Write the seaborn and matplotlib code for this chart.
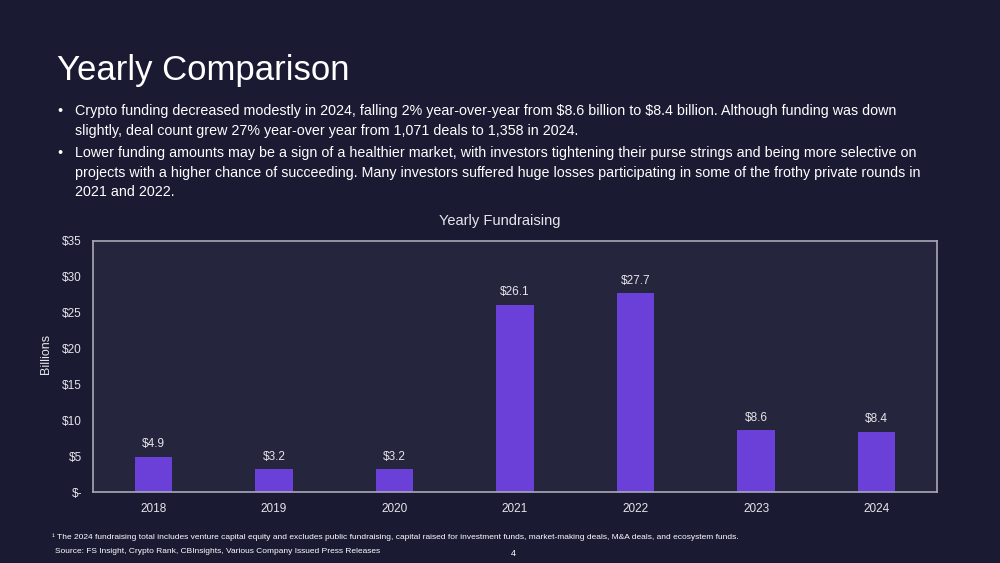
import pandas as pd
import seaborn as sns
import matplotlib.pyplot as plt

# chart data
years = ['2018', '2019', '2020', '2021', '2022', '2023', '2024']
funding = [4.9, 3.2, 3.2, 26.1, 27.7, 8.6, 8.4]
y_ticks = [0, 5, 10, 15, 20, 25, 30, 35]
y_tick_labels = ['$-', '$5', '$10', '$15', '$20', '$25', '$30', '$35']

BG = '#1a1a33'
PANEL = '#25253d'
BAR = '#6b40d9'
TXT = '#e6e6ec'

sns.set_theme(style='dark')
plt.rcParams['font.family'] = ['Liberation Sans', 'DejaVu Sans']
plt.rcParams['text.parse_math'] = False

df = pd.DataFrame({'year': years, 'funding': funding})

fig = plt.figure(figsize=(10, 5.63), dpi=100, facecolor=BG)
ax = fig.add_axes([0.093, 0.126, 0.844, 0.446])
ax.set_facecolor(PANEL)

sns.barplot(data=df, x='year', y='funding', color=BAR, width=0.31,
            saturation=1, linewidth=0, ax=ax)

for i, v in enumerate(funding):
    ax.text(i, v + 0.9, f'${v:.1f}', ha='center', va='bottom',
            color=TXT, fontsize=8.5)

ax.set_ylim(0, 35)
ax.set_xlim(-0.5, 6.5)
ax.set_yticks(y_ticks)
ax.set_yticklabels(y_tick_labels)
ax.tick_params(colors=TXT, labelsize=8.5, length=0, pad=8)
ax.set_xlabel('')
ax.set_ylabel('Billions', color=TXT, fontsize=9)
ax.yaxis.set_label_coords(-0.049, 0.55)
ax.grid(False)
for s in ax.spines.values():
    s.set_color('#a8a8b8')
    s.set_linewidth(1.2)
    s.set_visible(True)

fig.text(0.5, 0.607, 'Yearly Fundraising', color=TXT, fontsize=10.5,
         ha='center', va='center')

# slide text
fig.text(0.057, 0.875, 'Yearly Comparison', color='white', fontsize=25,
         ha='left', va='center')

bullets = [
    ('Crypto funding decreased modestly in 2024, falling 2% year-over-year from $8.6 billion to $8.4 billion. Although funding was down\n'
     'slightly, deal count grew 27% year-over year from 1,071 deals to 1,358 in 2024.', 0.815),
    ('Lower funding amounts may be a sign of a healthier market, with investors tightening their purse strings and being more selective on\n'
     'projects with a higher chance of succeeding. Many investors suffered huge losses participating in some of the frothy private rounds in\n'
     '2021 and 2022.', 0.74),
]
for body, y in bullets:
    fig.text(0.057, y, '•', color='white', fontsize=10.3, va='top')
    fig.text(0.075, y, body, color='white', fontsize=10.3, va='top',
             linespacing=1.5)

fig.text(0.052, 0.045, '¹ The 2024 fundraising total includes venture capital equity and excludes public fundraising, capital raised for investment funds, market-making deals, M&A deals, and ecosystem funds.',
         color='white', fontsize=6, va='center')
fig.text(0.055, 0.02, 'Source: FS Insight, Crypto Rank, CBInsights, Various Company Issued Press Releases',
         color='white', fontsize=6, va='center')
fig.text(0.513, 0.016, '4', color='white', fontsize=6.5, va='center', ha='center')

fig.savefig('out.png', dpi=100, facecolor=BG)
